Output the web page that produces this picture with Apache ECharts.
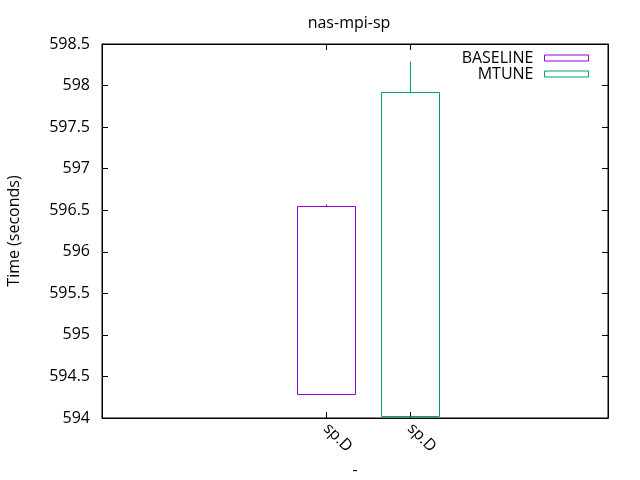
<!DOCTYPE html>
<html><head><meta charset="utf-8">
<script src="https://cdn.jsdelivr.net/npm/echarts@6/dist/echarts.min.js"></script>
<style>html,body{margin:0;padding:0;background:#fff}#c{width:640px;height:480px}</style>
</head><body><div id="c"></div>
<script>
const categories = ['sp.D', 'sp.D'];
const seriesNames = ['BASELINE', 'MTUNE'];
const seriesColors = ['#9400d3', '#009e73'];
const boxLow = [594.29, 594.02];
const boxHigh = [596.55, 597.92];
const whiskerHigh = [596.58, 598.30];
const yTicks = { min: 594, max: 598.5, interval: 0.5 };

const FONT = 'Open Sans';
const FS = 16;
const chart = echarts.init(document.getElementById('c'), null, { renderer: 'canvas' });

function px(v) { return Math.round(v) + 0.5; }

const series = seriesNames.map((name, i) => ({
  name: name,
  type: 'custom',
  xAxisIndex: 0, yAxisIndex: 0,
  itemStyle: { color: seriesColors[i] },
  data: [[i, boxLow[i], boxHigh[i], whiskerHigh[i]]],
  renderItem: function (params, api) {
    const x = api.value(0);
    const halfW = api.size([1, 0])[0] * 0.345;
    const pLow = api.coord([x, api.value(1)]);
    const pHigh = api.coord([x, api.value(2)]);
    const pW = api.coord([x, api.value(3)]);
    const col = seriesColors[i];
    const x0 = px(pLow[0] - halfW), x1 = px(pLow[0] + halfW);
    const yT = px(pHigh[1]), yB = px(pLow[1]);
    const xc = px(pHigh[0]);
    return {
      type: 'group',
      children: [
        { type: 'rect', shape: { x: x0, y: yT, width: x1 - x0, height: yB - yT },
          style: { fill: 'none', stroke: col, lineWidth: 1 } },
        { type: 'line', shape: { x1: xc, y1: yT, x2: xc, y2: px(pW[1]) },
          style: { stroke: col, lineWidth: 1 } }
      ]
    };
  }
}));

chart.setOption({
  animation: false,
  backgroundColor: '#fff',
  textStyle: { fontFamily: FONT },
  title: { text: 'nas-mpi-sp', left: 344, top: 10, textAlign: 'center',
    textStyle: { fontFamily: FONT, fontSize: FS, fontWeight: 'normal', color: '#000' } },
  grid: { left: 102, right: 32, top: 44, bottom: 62, outerBoundsMode: 'none', containLabel: false,
    show: true, borderColor: '#000', borderWidth: 1, backgroundColor: 'transparent' },
  legend: {
    orient: 'vertical', right: 51, top: 50, align: 'right',
    itemWidth: 44, itemHeight: 6, itemGap: 0, padding: 0,
    textStyle: { fontFamily: FONT, fontSize: FS, color: '#000', lineHeight: 15, padding: [0, 6, 0, 0] },
    data: seriesNames.map((n, i) => ({ name: n, icon: 'rect',
      itemStyle: { color: 'transparent', borderColor: seriesColors[i], borderWidth: 1 } }))
  },
  xAxis: [{
    type: 'value', min: -2.67, max: 3.36, position: 'bottom',
    name: '-', nameLocation: 'middle', nameGap: 42,
    nameTextStyle: { fontFamily: FONT, fontSize: FS, color: '#000' },
    splitLine: { show: false },
    axisLine: { show: true, onZero: false, lineStyle: { color: '#000' } },
    axisTick: { show: true, inside: true, length: 6, customValues: [0, 1], lineStyle: { color: '#000' } },
    axisLabel: { show: true, rotate: -45, margin: 8, customValues: [0, 1],
      fontFamily: FONT, fontSize: FS, color: '#000',
      formatter: function (v) { return categories[Math.round(v)]; } }
  }, {
    type: 'value', min: -2.67, max: 3.36, position: 'top',
    splitLine: { show: false },
    axisLine: { show: true, onZero: false, lineStyle: { color: '#000' } },
    axisTick: { show: true, inside: true, length: 6, customValues: [0, 1], lineStyle: { color: '#000' } },
    axisLabel: { show: false }
  }],
  yAxis: [{
    type: 'value', min: yTicks.min, max: yTicks.max, interval: yTicks.interval, position: 'left',
    name: 'Time (seconds)', nameLocation: 'middle', nameGap: 80, nameRotate: 90,
    nameTextStyle: { fontFamily: FONT, fontSize: FS, color: '#000' },
    splitLine: { show: false },
    axisLine: { show: true, onZero: false, lineStyle: { color: '#000' } },
    axisTick: { show: true, inside: true, length: 6, lineStyle: { color: '#000' } },
    axisLabel: { fontFamily: FONT, fontSize: FS, color: '#000', margin: 12 }
  }, {
    type: 'value', min: yTicks.min, max: yTicks.max, interval: yTicks.interval, position: 'right',
    splitLine: { show: false },
    axisLine: { show: true, onZero: false, lineStyle: { color: '#000' } },
    axisTick: { show: true, inside: true, length: 6, lineStyle: { color: '#000' } },
    axisLabel: { show: false }
  }],
  series: series
});
</script></body></html>
